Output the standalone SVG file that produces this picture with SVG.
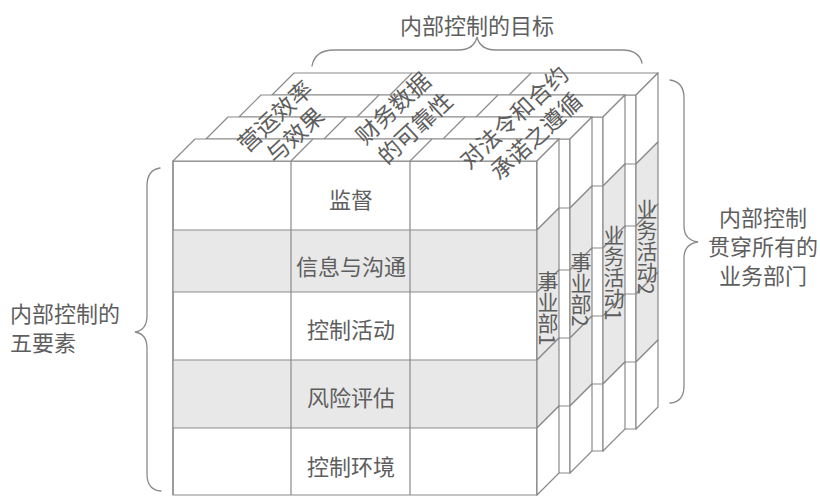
<svg xmlns="http://www.w3.org/2000/svg" xmlns:xlink="http://www.w3.org/1999/xlink" width="820" height="496" viewBox="0 0 820 496">
<style>
.face{fill:#ffffff;stroke:#8a8a8a;stroke-width:1.2;stroke-linejoin:round}
.shade{fill:#e8e8e8;stroke:#8a8a8a;stroke-width:1.2;stroke-linejoin:round}
.ln{fill:none;stroke:#8a8a8a;stroke-width:1.2}
.brace{fill:none;stroke:#8a8a8a;stroke-width:1.3;stroke-linecap:round}
.t{font-family:"Noto Sans CJK SC","Noto Sans CJK JP",sans-serif;font-size:22px;fill:#5e5e5e}
.v{writing-mode:tb;text-anchor:start;font-size:21px}
</style>
<defs>
<g id="slabFront">
<rect class="face" x="173" y="161" width="364" height="334"/>
<path class="ln" d="M173,230H537M173,292H537M173,360H537M173,428H537M291,161V495M410,161V495"/>
</g>
<g id="slabTopSide">
<polygon class="face" points="173,161 537,161 559,139 195,139"/>
<path class="ln" d="M291,161L313,139M410,161L432,139"/>
<polygon class="face" points="537,161 559,139 559,208 537,230"/>
<polygon class="shade" points="537,230 559,208 559,270 537,292"/>
<polygon class="shade" points="537,292 559,270 559,338 537,360"/>
<polygon class="shade" points="537,360 559,338 559,406 537,428"/>
<polygon class="face" points="537,428 559,406 559,473 537,495"/>
</g>
</defs>

<g id="slab-4">
<g transform="translate(99,-66)"><use xlink:href="#slabFront"/><use xlink:href="#slabTopSide"/></g>
<text class="t v" x="647" y="199">业务活动2</text>
</g>
<g id="slab-3">
<g transform="translate(66,-44)"><use xlink:href="#slabFront"/><use xlink:href="#slabTopSide"/></g>
<text class="t v" x="614" y="225">业务活动1</text>
</g>
<g id="slab-2">
<g transform="translate(33,-22)"><use xlink:href="#slabFront"/><use xlink:href="#slabTopSide"/></g>
<text class="t v" x="581" y="252">事业部2</text>
</g>
<g id="slab-1">
<rect class="face" x="173" y="161" width="364" height="334"/>
<rect x="173" y="230" width="364" height="62" fill="#e8e8e8"/>
<rect x="173" y="360" width="364" height="68" fill="#e8e8e8"/>
<path class="ln" d="M173,161H537V495M173,230H537M173,292H537M173,360H537M173,428H537M291,161V495M410,161V495M173,161V495"/>
<use xlink:href="#slabTopSide"/>
<text class="t v" x="548" y="271">事业部1</text>
</g>

<g id="row-labels">
<text class="t" x="351" y="208" text-anchor="middle">监督</text>
<text class="t" x="351" y="275" text-anchor="middle">信息与沟通</text>
<text class="t" x="351" y="338" text-anchor="middle">控制活动</text>
<text class="t" x="351" y="406" text-anchor="middle">风险评估</text>
<text class="t" x="351" y="475" text-anchor="middle">控制环境</text>
</g>

<g id="objective-labels" class="t" style="font-size:23px" text-anchor="middle" dominant-baseline="central">
<text transform="translate(274,115) rotate(-43)">营运效率</text>
<text transform="translate(294,134) rotate(-43)">与效果</text>
<text transform="translate(392,107) rotate(-43)">财务数据</text>
<text transform="translate(414,127) rotate(-43)">的可靠性</text>
<text transform="translate(513,116) rotate(-43)">对法令和合约</text>
<text transform="translate(535,135) rotate(-43)">承诺之遵循</text>
</g>

<g id="connectors">
<path class="brace" d="M312,66Q315,50 334,50L458,50Q474,50 477,37Q480,50 496,50L622,50Q639,50 642,63"/>
<path class="brace" d="M670,80Q684,82 684,98L684,226Q684,240 698,242Q684,244 684,258L684,386Q684,402 670,403"/>
<path class="brace" d="M160,168Q147,170 147,186L147,316Q147,330 135,332Q147,334 147,348L147,474Q147,490 161,491"/>
</g>

<g id="title" class="t" dominant-baseline="central">
<text x="477" y="24" text-anchor="middle">内部控制的目标</text>
</g>
<g id="right-label" class="t" text-anchor="middle" dominant-baseline="central">
<text x="763" y="216">内部控制</text>
<text x="763" y="245">贯穿所有的</text>
<text x="763" y="274">业务部门</text>
</g>
<g id="left-label" class="t" dominant-baseline="central">
<text x="10" y="312">内部控制的</text>
<text x="10" y="341">五要素</text>
</g>
</svg>
